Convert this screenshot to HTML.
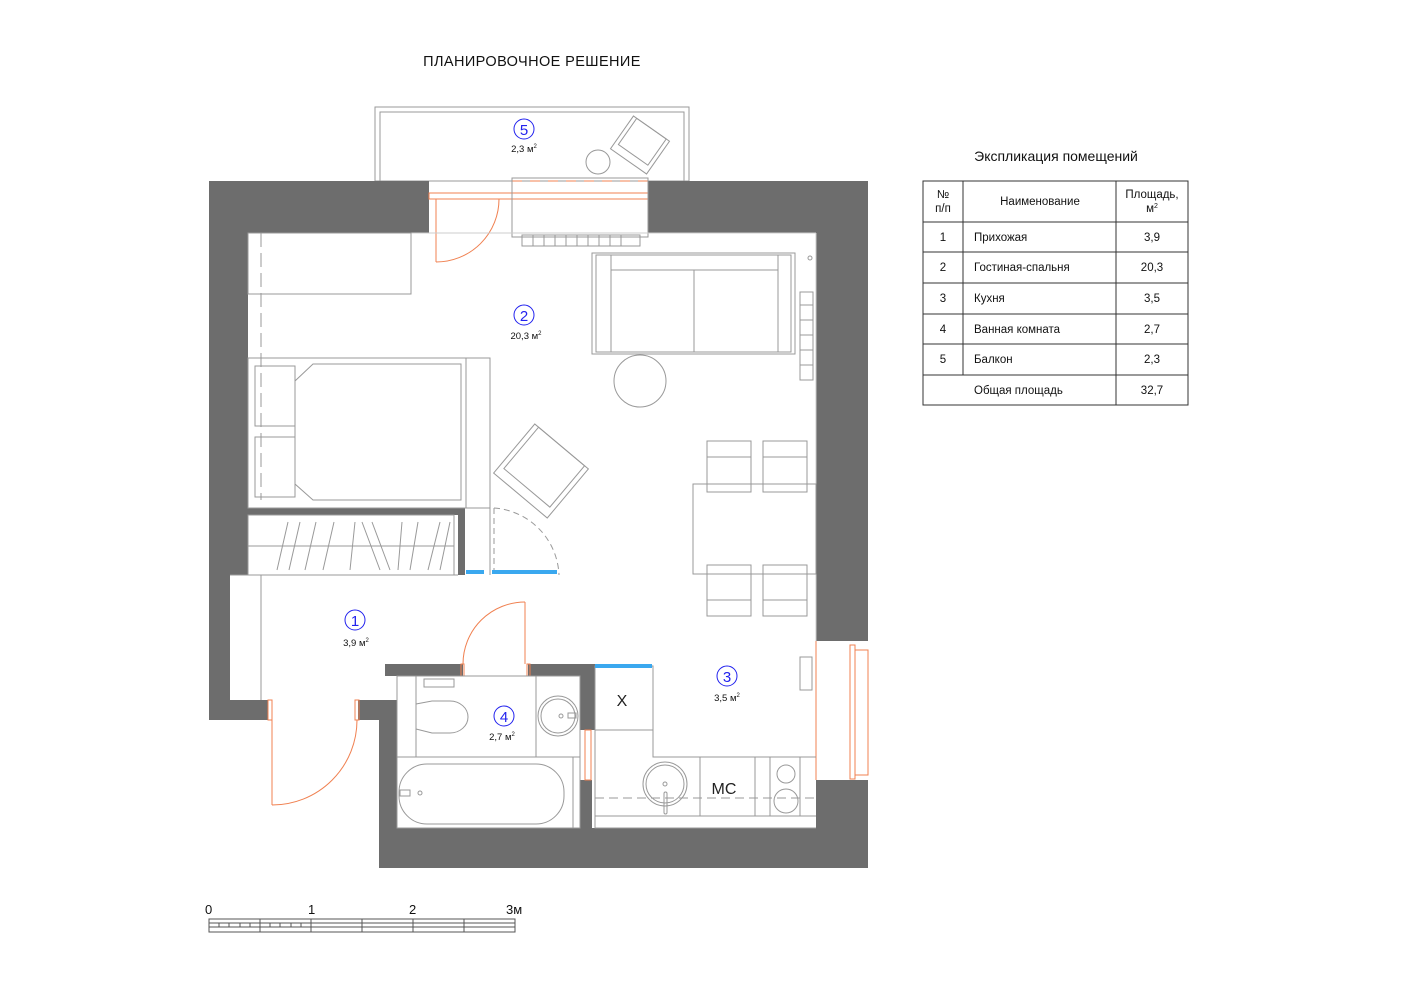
<!DOCTYPE html>
<html><head><meta charset="utf-8"><style>
html,body{margin:0;padding:0;background:#fff;}
svg{display:block;font-family:"Liberation Sans","Noto Sans CJK SC",sans-serif;}
</style></head><body>
<svg width="1414" height="1000" viewBox="0 0 1414 1000" xmlns="http://www.w3.org/2000/svg">
<rect width="1414" height="1000" fill="#fff"/>
<text x="532" y="66" font-size="14.5" text-anchor="middle" fill="#111" letter-spacing="0.4">ПЛАНИРОВОЧНОЕ РЕШЕНИЕ</text>

<!-- balcony -->
<g fill="none" stroke="#999" stroke-width="1">
<rect x="375" y="107" width="314" height="74"/>
<rect x="380" y="112" width="304" height="69"/>
<circle cx="598" cy="162" r="12"/>
<g transform="translate(640,145) rotate(35)"><rect x="-22" y="-20" width="44" height="40"/><rect x="-18" y="-20" width="36" height="32"/></g>
</g>
<circle cx="524" cy="129" r="10" fill="none" stroke="#2222ee" stroke-width="1"/>
<text x="524" y="135" font-size="15" text-anchor="middle" fill="#2222ee">5</text>
<text x="524" y="152" font-size="9.5" text-anchor="middle" fill="#111">2,3 м<tspan font-size="6" dy="-4">2</tspan></text>

<!-- walls -->
<g fill="#6d6d6d">
<rect x="209" y="181" width="220" height="52"/>
<rect x="648" y="181" width="220" height="52"/>
<rect x="209" y="181" width="39" height="394"/>
<rect x="209" y="575" width="21" height="145"/>
<rect x="209" y="700" width="59" height="20"/>
<rect x="816" y="181" width="52" height="460"/>
<rect x="816" y="780" width="52" height="88"/>
<rect x="379" y="828" width="489" height="40"/>
<rect x="358" y="700" width="27" height="20"/>
<rect x="379" y="700" width="18" height="168"/>
<rect x="385" y="664" width="78" height="12"/>
<rect x="528" y="664" width="67" height="12"/>
<rect x="580" y="664" width="15" height="66"/>
<rect x="580" y="780" width="12" height="48"/>
<rect x="248" y="508" width="217" height="7"/>
<rect x="458" y="508" width="7" height="67"/>
</g>

<g fill="none" stroke="#f08050" stroke-width="1">
<rect x="429" y="193" width="219" height="6"/>
<line x1="512" y1="181" x2="648" y2="181" stroke-dasharray="10,8"/>
<line x1="512" y1="233" x2="648" y2="233" stroke-dasharray="10,8"/>
<line x1="436" y1="199" x2="436" y2="262"/>
<path d="M436 262 A63 63 0 0 0 499 199"/>
<line x1="272" y1="720" x2="272" y2="805"/>
<path d="M272 805 A85 85 0 0 0 357 720"/>
<rect x="268" y="700" width="4" height="20"/><rect x="355" y="700" width="4" height="20"/>
<path d="M463 664 A62 62 0 0 1 525 602"/>
<line x1="525" y1="602" x2="525" y2="664"/>
<rect x="461" y="664" width="3" height="12"/><rect x="527" y="664" width="3" height="12"/>
<line x1="816" y1="641" x2="816" y2="780"/>
<rect x="850" y="645" width="5" height="134"/>
<rect x="855" y="650" width="13" height="125"/>
<rect x="585" y="730" width="6" height="50"/>
</g>
<g fill="none" stroke="#999" stroke-width="1">
<rect x="512" y="178" width="136" height="59"/>
<rect x="522" y="235" width="118" height="11"/>
<line x1="533" y1="235" x2="533" y2="246"/><line x1="544" y1="235" x2="544" y2="246"/><line x1="555" y1="235" x2="555" y2="246"/><line x1="566" y1="235" x2="566" y2="246"/><line x1="577" y1="235" x2="577" y2="246"/><line x1="588" y1="235" x2="588" y2="246"/><line x1="599" y1="235" x2="599" y2="246"/><line x1="610" y1="235" x2="610" y2="246"/><line x1="621" y1="235" x2="621" y2="246"/>
<line x1="248" y1="233" x2="816" y2="233" stroke="#ccc"/>
<line x1="816" y1="233" x2="816" y2="641" stroke="#ccc"/>
<rect x="248" y="233" width="163" height="61"/>
<line x1="261" y1="233" x2="261" y2="500" stroke-dasharray="14,6"/>
<rect x="592" y="253" width="203" height="101"/>
<rect x="596" y="255" width="195" height="97"/>
<line x1="611" y1="255" x2="611" y2="352"/><line x1="778" y1="255" x2="778" y2="352"/>
<line x1="611" y1="270" x2="778" y2="270"/><line x1="694" y1="270" x2="694" y2="352"/>
<circle cx="810" cy="258" r="2"/>
<rect x="800" y="292" width="13" height="88"/>
<line x1="800" y1="305" x2="813" y2="305"/><line x1="800" y1="320" x2="813" y2="320"/><line x1="800" y1="335" x2="813" y2="335"/><line x1="800" y1="350" x2="813" y2="350"/><line x1="800" y1="365" x2="813" y2="365"/>
<ellipse cx="640" cy="381" rx="26" ry="26"/>
<rect x="248" y="358" width="242" height="150"/>
<path d="M313 364 H461 V500 H313 L295 484 V381 Z"/>
<rect x="255" y="366" width="40" height="60"/><rect x="255" y="437" width="40" height="60"/>
<line x1="466" y1="358" x2="466" y2="508"/><line x1="490" y1="358" x2="490" y2="575"/>
<g transform="translate(541,471) rotate(40)"><rect x="-35" y="-32" width="70" height="64"/><rect x="-30" y="-32" width="60" height="54"/></g>
<rect x="248" y="515" width="206" height="60"/>
<line x1="248" y1="546" x2="454" y2="546"/>
<path d="M277 570 L288 522 M289 570 L300 522 M305 570 L316 522 M323 570 L334 522 M350 570 L355 522 M362 522 L380 570 M372 522 L390 570 M398 570 L402 522 M410 570 L418 522 M428 570 L440 522 M440 570 L450 522"/>
<path d="M494 508 A70 70 0 0 1 559 575" stroke-dasharray="6,4"/>
<line x1="494" y1="508" x2="494" y2="575" stroke-dasharray="6,4"/>
<rect x="693" y="484" width="123" height="90"/>
<rect x="707" y="441" width="44" height="51"/><line x1="707" y1="457" x2="751" y2="457"/>
<rect x="763" y="441" width="44" height="51"/><line x1="763" y1="457" x2="807" y2="457"/>
<rect x="707" y="565" width="44" height="51"/><line x1="707" y1="600" x2="751" y2="600"/>
<rect x="763" y="565" width="44" height="51"/><line x1="763" y1="600" x2="807" y2="600"/>
<rect x="800" y="657" width="12" height="33"/>
<line x1="230" y1="575" x2="458" y2="575"/>
<line x1="261" y1="575" x2="261" y2="700"/>
<rect x="397" y="676" width="183" height="152"/>
<line x1="416" y1="676" x2="416" y2="757"/><line x1="536" y1="676" x2="536" y2="757"/>
<line x1="397" y1="757" x2="580" y2="757"/><line x1="573" y1="757" x2="573" y2="828"/>
<rect x="399" y="764" width="165" height="60" rx="28"/>
<circle cx="420" cy="793" r="2"/><rect x="400" y="790" width="10" height="6"/>
<rect x="424" y="679" width="30" height="8"/>
<path d="M416 704 L432 701 H450 A18 16 0 0 1 450 733 H432 L416 729"/>
<ellipse cx="558" cy="716" rx="20" ry="20"/><ellipse cx="558" cy="716" rx="17" ry="17"/>
<circle cx="561" cy="716" r="2"/><rect x="568" y="713" width="8" height="5"/>
<rect x="595" y="666" width="58" height="64"/>
<path d="M595 730 V828 H816 M653 730 V757 H816"/>
<line x1="700" y1="757" x2="700" y2="816"/><line x1="755" y1="757" x2="755" y2="816"/>
<line x1="770" y1="757" x2="770" y2="816"/><line x1="800" y1="757" x2="800" y2="816"/>
<line x1="595" y1="798" x2="816" y2="798" stroke-dasharray="9,5"/>
<line x1="595" y1="816" x2="816" y2="816"/>
<circle cx="665" cy="784" r="22"/><circle cx="665" cy="784" r="19"/><circle cx="665" cy="784" r="2"/>
<rect x="664" y="792" width="3" height="22" rx="1.5"/>
<circle cx="786" cy="774" r="9"/><circle cx="786" cy="801" r="12"/>
</g>
<rect x="466" y="570" width="18" height="4" fill="#3aa8ef"/>
<rect x="492" y="570" width="65" height="4" fill="#3aa8ef"/>
<rect x="595" y="664" width="57" height="4" fill="#3aa8ef"/>
<text x="622" y="706" font-size="16" text-anchor="middle" fill="#222">Х</text>
<text x="724" y="794" font-size="16" text-anchor="middle" fill="#222">МС</text>

<g fill="none" stroke="#2222ee" stroke-width="1">
<circle cx="524" cy="315" r="10"/><circle cx="355" cy="620" r="10"/><circle cx="727" cy="676" r="10"/><circle cx="504" cy="716" r="10"/>
</g>
<g font-size="15" text-anchor="middle" fill="#2222ee">
<text x="524" y="321">2</text><text x="355" y="626">1</text><text x="727" y="682">3</text><text x="504" y="722">4</text>
</g>
<g font-size="9.5" text-anchor="middle" fill="#111">
<text x="526" y="339">20,3 м<tspan font-size="6" dy="-4">2</tspan></text>
<text x="356" y="646">3,9 м<tspan font-size="6" dy="-4">2</tspan></text>
<text x="727" y="701">3,5 м<tspan font-size="6" dy="-4">2</tspan></text>
<text x="502" y="740">2,7 м<tspan font-size="6" dy="-4">2</tspan></text>
</g>

<g font-size="13" fill="#111"><text x="205" y="914">0</text><text x="308" y="914">1</text><text x="409" y="914">2</text><text x="506" y="914">3м</text></g>
<g fill="none" stroke="#555" stroke-width="1">
<rect x="209" y="919" width="306" height="13"/>
<line x1="209" y1="923" x2="515" y2="923"/><line x1="209" y1="927" x2="515" y2="927"/>
<line x1="260" y1="919" x2="260" y2="932"/><line x1="311" y1="919" x2="311" y2="932"/><line x1="362" y1="919" x2="362" y2="932"/><line x1="413" y1="919" x2="413" y2="932"/><line x1="464" y1="919" x2="464" y2="932"/>
<path d="M219 923V927M229 923V927M240 923V927M250 923V927M270 923V927M280 923V927M291 923V927M301 923V927"/>
</g>

<text x="1056" y="161" font-size="14" text-anchor="middle" fill="#111">Экспликация помещений</text>
<g fill="none" stroke="#333" stroke-width="1">
<rect x="923" y="181" width="265" height="224"/>
<line x1="963" y1="181" x2="963" y2="375"/><line x1="1116" y1="181" x2="1116" y2="405"/>
<line x1="923" y1="222" x2="1188" y2="222"/><line x1="923" y1="252" x2="1188" y2="252"/><line x1="923" y1="283" x2="1188" y2="283"/><line x1="923" y1="314" x2="1188" y2="314"/><line x1="923" y1="344" x2="1188" y2="344"/><line x1="923" y1="375" x2="1188" y2="375"/>
</g>
<g font-size="11.5" fill="#111">
<text x="943" y="198" text-anchor="middle">№</text><text x="943" y="212" text-anchor="middle">п/п</text>
<text x="1040" y="205" text-anchor="middle">Наименование</text>
<text x="1152" y="198" text-anchor="middle">Площадь,</text><text x="1152" y="212" text-anchor="middle">м<tspan font-size="7" dy="-4">2</tspan></text>
<text x="943" y="241" text-anchor="middle">1</text><text x="974" y="241">Прихожая</text><text x="1152" y="241" text-anchor="middle">3,9</text>
<text x="943" y="271" text-anchor="middle">2</text><text x="974" y="271">Гостиная-спальня</text><text x="1152" y="271" text-anchor="middle">20,3</text>
<text x="943" y="302" text-anchor="middle">3</text><text x="974" y="302">Кухня</text><text x="1152" y="302" text-anchor="middle">3,5</text>
<text x="943" y="333" text-anchor="middle">4</text><text x="974" y="333">Ванная комната</text><text x="1152" y="333" text-anchor="middle">2,7</text>
<text x="943" y="363" text-anchor="middle">5</text><text x="974" y="363">Балкон</text><text x="1152" y="363" text-anchor="middle">2,3</text>
<text x="974" y="394">Общая площадь</text><text x="1152" y="394" text-anchor="middle">32,7</text>
</g>
</svg>
</body></html>
